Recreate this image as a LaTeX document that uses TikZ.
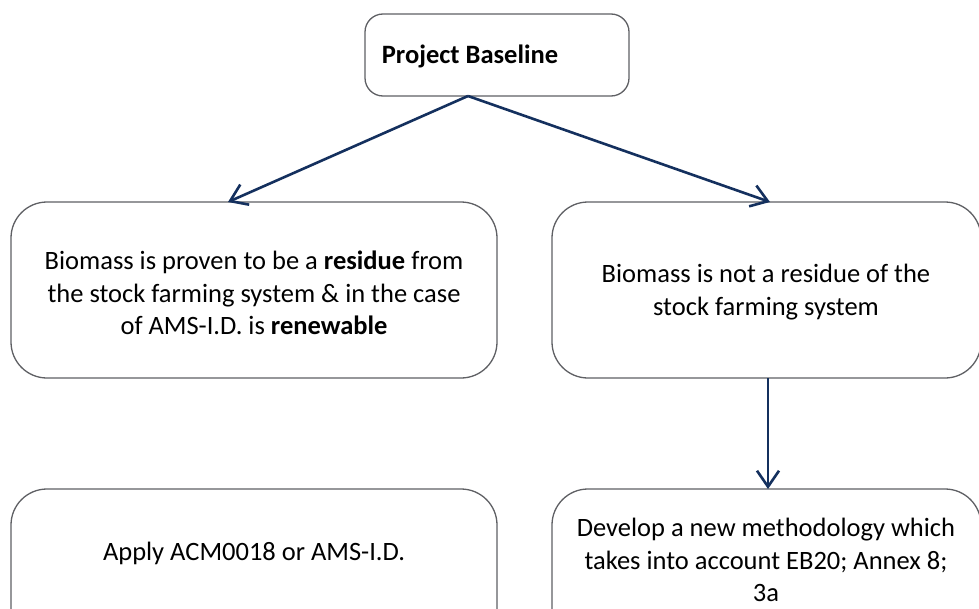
\documentclass[tikz,border=0pt]{standalone}
\usepackage{fontspec}
\setmainfont{Carlito}
\usetikzlibrary{arrows.meta}
\definecolor{boxline}{HTML}{5F6064}
\definecolor{arrowc}{HTML}{14305E}
\begin{document}
\begin{tikzpicture}[x=1pt,y=-1pt,
  box/.style={draw=boxline,line width=1.3pt,fill=white},
  conn/.style={draw=arrowc,line width=2.6pt,-{Straight Barb[length=16pt,width=22pt,line width=2.6pt]}},
  txt/.style={font=\fontsize{26.5}{32.5}\selectfont,align=center,inner sep=0pt}]
\useasboundingbox (0,0) rectangle (979,608);
\clip (0,0) rectangle (979,608);
\fill[white] (0,0) rectangle (979,608);
% boxes
\draw[box,rounded corners=18pt] (365,14) rectangle (629,96);
\draw[box,rounded corners=36pt] (11,202) rectangle (497,378);
\draw[box,rounded corners=36pt] (552,202) rectangle (981,378);
\draw[box,rounded corners=36pt] (11,489) rectangle (497,660);
\draw[box,rounded corners=36pt] (552,489) rectangle (981,660);
% texts
\node[txt] (pb) at (470,56) {\textbf{Project Baseline}};
\node[txt] (res) at (254,293) {Biomass is proven to be a \textbf{residue} from\\the stock farming system \& in the case\\of AMS-I.D. is \textbf{renewable}};
\node[txt] (nres) at (766,292) {Biomass is not a residue of the\\stock farming system};
\node[txt] (apply) at (254,553) {Apply ACM0018 or AMS-I.D.};
\node[txt] (dev) at (766,560) {Develop a new methodology which\\takes into account EB20; Annex 8;\\3a};
% connector anchors
\coordinate (pbS) at (468,96);
\coordinate (resN) at (228,202);
\coordinate (nresN) at (770,202);
\coordinate (nresS) at (768,378);
\coordinate (devN) at (768,489);
\draw[conn] (pbS) -- (resN);
\draw[conn] (pbS) -- (nresN);
\draw[conn] (nresS) -- (devN);
\end{tikzpicture}
\end{document}
